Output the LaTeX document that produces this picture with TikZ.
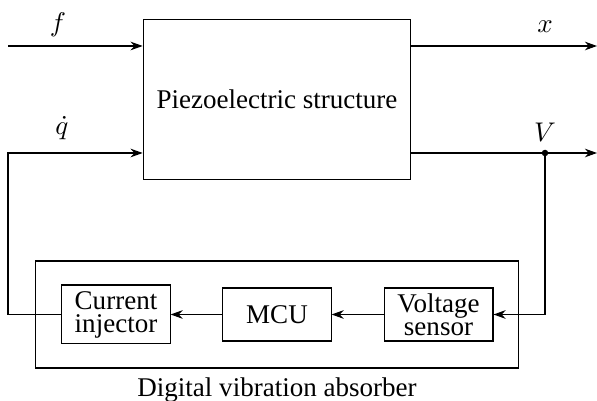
\documentclass[tikz,border=0pt]{standalone}
\usepackage{fontspec}
\setmainfont{Liberation Serif}
\usepackage{tikz}
\usetikzlibrary{
  arrows.meta,
  positioning
}

\begin{document}
\begin{tikzpicture}[x=0.37pt, y=-0.37pt,
    block/.style={draw, rectangle, align=center, inner sep=2pt, font=\fontsize{10}{8.5}\selectfont},
    sig/.style={-{Stealth[length=4.5pt, width=3.2pt]}}]
  \useasboundingbox (0,0) rectangle (597,401);
  % plant
  \node[block, minimum width=99pt, minimum height=59.5pt] (plant) at (277,99.5) {Piezoelectric structure};
  % absorber
  \node[draw, rectangle, minimum width=179pt, minimum height=39.6pt] (dva) at (277,314.5) {};
  \node[block, minimum width=40pt, minimum height=21.8pt] (inj) at (116,314.5) {Current\\injector};
  \node[block, minimum width=40pt, minimum height=19.6pt] (mcu) at (277,314.5) {MCU};
  \node[block, minimum width=40.3pt, minimum height=19.6pt] (sens) at (438.5,314.5) {Voltage\\sensor};
  \node[below=0pt of dva] (dvalabel) {Digital vibration absorber};

  \coordinate (fin) at (8,46);
  \coordinate (qin) at (8,153);
  \coordinate (xout) at (597,46);
  \coordinate (vout) at (597,153);
  \coordinate (vtap) at (545,153);

  \draw[sig] (fin) -- (fin -| plant.west);
  \draw[sig] (inj.west) -- (inj.west -| qin) -- (qin) -- (qin -| plant.west);
  \draw[sig] (plant.east |- xout) -- (xout);
  \draw[sig] (plant.east |- vout) -- (vout);
  \draw[sig] (vtap) |- (sens.east);
  \draw[sig] (sens.west) -- (mcu.east);
  \draw[sig] (mcu.west) -- (inj.east);
  \fill (vtap) circle (1.2pt);

  \node (flabel) at (58,25) {$f$};
  \node (qlabel) at (62,128) {$\dot{q}$};
  \node (xlabel) at (545,27) {$x$};
  \node (vlabel) at (545,132) {$V$};
\end{tikzpicture}
\end{document}
